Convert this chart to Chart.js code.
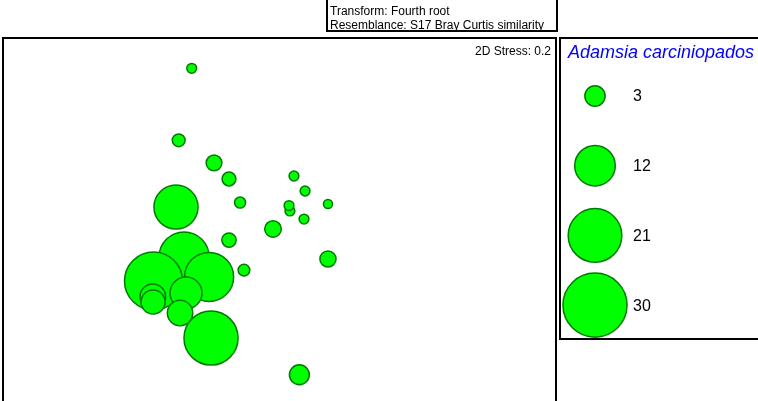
<!DOCTYPE html>
<html>
<head>
<meta charset="utf-8">
<title>MDS bubble plot</title>
<script src="https://cdn.jsdelivr.net/npm/chart.js@4.4.1/dist/chart.umd.min.js"></script>
<style>
    body { margin: 0; background: #fff; overflow: hidden; }
    canvas { display: block; }
</style>
</head>
<body>
<canvas id="mdsChart" width="758" height="401"></canvas>
<script>
// nMDS coordinates of each sample and abundance of Adamsia carciniopados
const sampleX = [-0.583, -0.670, -0.434, -0.334, -0.260, 0.100, 0.174, 0.327, 0.073, 0.067, 0.167, -0.040, -0.334,
    -0.234, 0.327, -0.688, -0.634, -0.838, -0.467, -0.621, -0.843, -0.841, -0.661, -0.454, 0.136];
const sampleY = [1.008, 0.528, 0.377, 0.270, 0.113, 0.290, 0.190, 0.103, 0.057, 0.093, 0.003, -0.063, -0.137,
    -0.337, -0.263, 0.083, -0.250, -0.410, -0.383, -0.490, -0.515, -0.550, -0.623, -0.790, -1.035];
const abundance = [0.7, 1.2, 1.8, 1.4, 0.9, 0.7, 0.7, 0.6, 0.7, 0.7, 0.7, 2.0, 1.5,
    1.0, 1.9, 14.2, 18.3, 24.6, 17.6, 7.5, 4.8, 4.2, 4.7, 21.4, 2.9];

// size key
const legendValues = [3, 12, 21, 30];
const legendTitle = 'Adamsia carciniopados';
const transformText = 'Transform: Fourth root';
const resemblanceText = 'Resemblance: S17 Bray Curtis similarity';
const stressText = '2D Stress: 0.2';

// bubble area proportional to the value
const sizeFactor = 5.85;
const bubbleRadius = (v) => sizeFactor * Math.sqrt(v);

const ctx = document.getElementById('mdsChart');

const samples = sampleX.map((x, i) => ({ x, y: sampleY[i], r: bubbleRadius(abundance[i]) }));
const keyPoints = legendValues.map((v, i) => ({ x: 0, y: i, r: bubbleRadius(v) }));

const framePlugin = {
    id: 'frame',
    afterDraw(chart) {
        const c = chart.ctx;
        c.save();
        c.strokeStyle = '#000';
        c.lineWidth = 2;
        // main plot, header box, key box
        c.strokeRect(3, 38, 553, 400);
        c.strokeRect(327, -5, 230, 36);
        c.strokeRect(560, 38, 220, 301);

        c.fillStyle = '#000';
        c.textBaseline = 'alphabetic';
        c.font = '12px "Liberation Sans", Arial, sans-serif';
        c.textAlign = 'left';
        c.fillText(transformText, 330, 15);
        c.fillText(resemblanceText, 330, 29);
        c.textAlign = 'right';
        c.fillText(stressText, 551, 55);

        c.textAlign = 'left';
        c.fillStyle = '#0000ff';
        c.font = 'italic 18px "Liberation Sans", Arial, sans-serif';
        c.fillText(legendTitle, 568, 58);

        // key labels next to their bubbles
        c.fillStyle = '#000';
        c.font = '16px "Liberation Sans", Arial, sans-serif';
        c.textBaseline = 'middle';
        const meta = chart.getDatasetMeta(1);
        meta.data.forEach((pt, i) => {
            c.fillText(String(legendValues[i]), pt.x + 38, pt.y + 1);
        });
        c.restore();
    }
};

const bubbleStyle = {
    backgroundColor: '#00ff00',
    borderColor: '#007a00',
    borderWidth: 1.5
};

new Chart(ctx, {
    type: 'bubble',
    data: {
        datasets: [
            { label: 'samples', data: samples, xAxisID: 'x', yAxisID: 'y', ...bubbleStyle },
            { label: 'key', data: keyPoints, xAxisID: 'lx', yAxisID: 'ly', ...bubbleStyle }
        ]
    },
    options: {
        responsive: false,
        animation: false,
        events: [],
        layout: { padding: 0, autoPadding: false },
        plugins: {
            legend: { display: false },
            tooltip: { enabled: false }
        },
        scales: {
            x: { type: 'linear', display: false, min: -1.8634, max: 3.1991 },
            y: { type: 'linear', display: false, min: -1.21, max: 1.4633 },
            lx: { type: 'linear', display: false, min: -16.528, max: 4.528 },
            ly: { type: 'linear', display: false, reverse: true, min: -1.3773, max: 4.3759 }
        }
    },
    plugins: [framePlugin]
});
</script>
</body>
</html>
